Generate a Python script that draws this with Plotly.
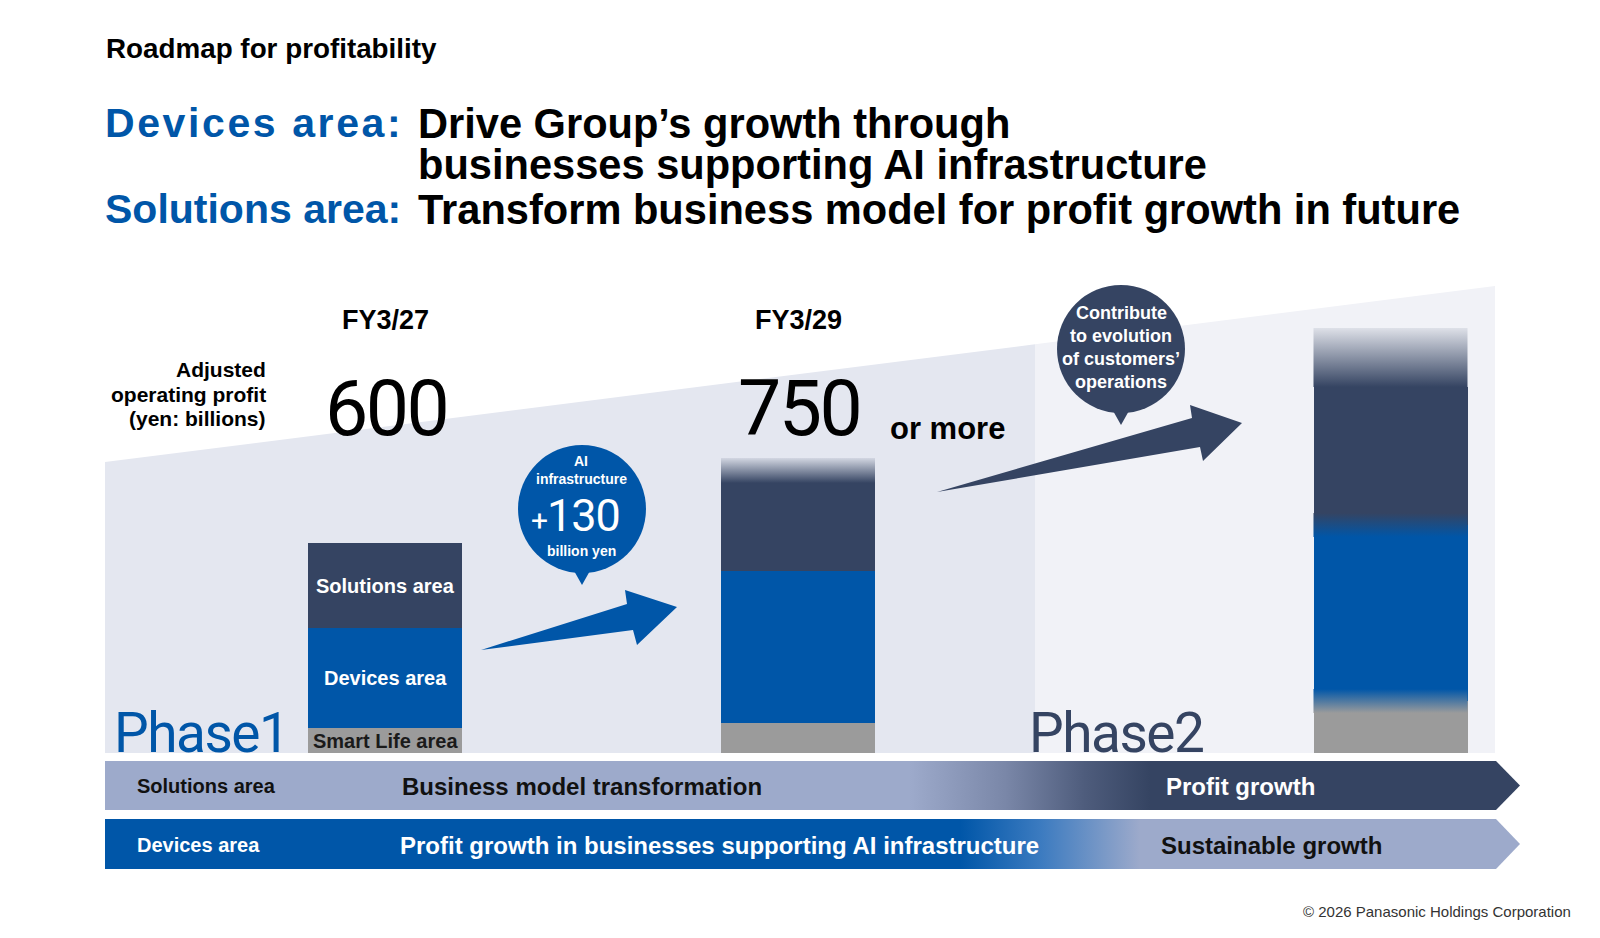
import plotly.graph_objects as go

# ---------------- data ----------------
periods = ["FY3/27", "FY3/29", "Phase2 outlook"]
profit_labels = ["600", "750", ""]
profit_suffix = "or more"
segment_names = ["Smart Life area", "Devices area", "Solutions area"]
smart_life = [25, 30, 52]      # schematic segment heights
devices = [100, 152, 176]
solutions = [85, 88, 138]
fade = [0, 25, 59]             # open-ended (faded) top part

ai_bubble = ["AI", "infrastructure", "+130", "billion yen"]
customer_bubble = ["Contribute", "to evolution", "of customers’", "operations"]
y_title = ["Adjusted", "operating profit", "(yen: billions)"]

band_rows = ["Solutions area", "Devices area"]
band_phase1 = ["Business model transformation",
               "Profit growth in businesses supporting AI infrastructure"]
band_phase2 = ["Profit growth", "Sustainable growth"]

# ---------------- layout constants ----------------
W, H = 1600, 938
BASE_PX = 753
BAR_X = [385, 798, 1390.5]
BAR_W = 154
SOFT = [False, False, True]

BLUE = "#0056A8"
NAVY = "#354462"
GRAY = "#9B9B9B"
BG1 = "#E4E7F0"
BG2 = "#F1F2F7"
LIGHT = "#9DAACB"
FONT = "Liberation Sans, Arial, Helvetica, sans-serif"
NARROW = "Roboto, Noto Sans, sans-serif"

fig = go.Figure()

# ---- bottom roadmap bands (horizontal gradient arrows) ----
def band(y0, y1, stops):
    ym = (y0 + y1) / 2
    xs = [105, 1496, 1520, 1496, 105, 105]
    ys = [y0, y0, ym, y1, y1, y0]
    fig.add_trace(go.Scatter(
        x=xs, y=ys, mode="lines", line=dict(width=0), fill="toself",
        fillgradient=dict(type="horizontal", colorscale=stops, start=105, stop=1520),
        hoverinfo="skip", showlegend=False))

def f(x):
    return (x - 105) / (1520 - 105)

band(761, 810, [[0, LIGHT], [f(910), LIGHT], [f(1005), "#7A87A8"],
                [f(1085), "#4E5C7C"], [f(1150), NAVY], [1, NAVY]])
band(819, 869, [[0, BLUE], [f(960), BLUE], [f(1041), "#3C7BC0"],
                [f(1140), LIGHT], [1, LIGHT]])

# ---- stacked bars ----
seg_vals = [smart_life, devices, solutions]
seg_cols = [GRAY, BLUE, NAVY]
for name, vals, col in zip(segment_names, seg_vals, seg_cols):
    fig.add_trace(go.Bar(x=BAR_X, y=vals, width=BAR_W, yaxis="y2", name=name,
                         marker=dict(color=col, line=dict(width=0)),
                         hoverinfo="skip", showlegend=False))

def grad_rect(xc, y0, y1, c_bottom, c_top):
    x0, x1 = xc - BAR_W / 2, xc + BAR_W / 2
    fig.add_trace(go.Scatter(
        x=[x0, x1, x1, x0, x0], y=[y0, y0, y1, y1, y0], yaxis="y2",
        mode="lines", line=dict(width=0), fill="toself",
        fillgradient=dict(type="vertical", colorscale=[[0, c_bottom], [1, c_top]],
                          start=y0, stop=y1),
        hoverinfo="skip", showlegend=False))

for i in range(len(periods)):
    top = smart_life[i] + devices[i] + solutions[i]
    if fade[i] > 0:
        grad_rect(BAR_X[i], top, top + fade[i], NAVY, "rgba(53,68,98,0.1)")
    if SOFT[i]:
        b1 = smart_life[i]
        b2 = smart_life[i] + devices[i]
        grad_rect(BAR_X[i], b1 - 12, b1 + 12, GRAY, BLUE)
        grad_rect(BAR_X[i], b2 - 12, b2 + 12, BLUE, NAVY)

# ---- shapes: background, arrows, bubbles ----
shapes = []
def path(d, color, layer="below"):
    shapes.append(dict(type="path", path=d, xref="x", yref="y", fillcolor=color,
                       line=dict(width=0), layer=layer))

path("M105,462 L1035,344.3 L1035,753 L105,753 Z", BG1)
path("M1035,344.3 L1495,286 L1495,753 L1035,753 Z", BG2)
# arrows
path("M481,650 L627,604 L625,590 L677,607 L637,645 L633,630 Z", BLUE, "above")
path("M937,492 L1192,418 L1190,405 L1242,423 L1203,461 L1200,447 Z", NAVY, "above")
# bubbles
for cx, cy, col in [(582, 509, BLUE), (1121, 349, NAVY)]:
    shapes.append(dict(type="circle", xref="x", yref="y", x0=cx - 64, x1=cx + 64,
                       y0=cy - 64, y1=cy + 64, fillcolor=col, line=dict(width=0),
                       layer="above"))
    path(f"M{cx-9},{cy+60} L{cx+9},{cy+60} L{cx},{cy+76} Z", col, "above")

# ---- annotations ----
ann = []
def txt(x, y, s, size, color="#000", bold=True, xanchor="center", family=FONT,
        yref="y", spacing=None):
    if spacing is not None:
        s = f'<span style="letter-spacing:{spacing}px">{s}</span>'
    ann.append(dict(x=x, y=y, xref="x", yref=yref, text=s, showarrow=False,
                    xanchor=xanchor, yanchor="middle",
                    font=dict(family=family, size=size, color=color,
                              weight="bold" if bold else "normal")))

txt(104, 48, "Roadmap for profitability", 27.8, xanchor="left")
txt(103, 123, "Devices area:", 41, BLUE, xanchor="left", spacing=2.6)
txt(416, 123, "Drive Group’s growth through", 41.6, xanchor="left")
txt(416, 164, "businesses supporting AI infrastructure", 41.6, xanchor="left")
txt(103, 209, "Solutions area:", 41, BLUE, xanchor="left")
txt(416, 209, "Transform business model for profit growth in future", 41.6, xanchor="left")

for i, p in enumerate(periods[:2]):
    txt(BAR_X[i], 320, p, 27)
    txt(BAR_X[i] + 1, 409, profit_labels[i], 77, bold=False, family=NARROW, spacing=-2.5)
txt(888, 428, profit_suffix, 31, xanchor="left")

for s, yy in zip(y_title, [369, 394, 418]):
    txt(268, yy, s, 21, xanchor="right")

# segment names inside first bar
cum = 0
for name, vals, col in zip(segment_names, seg_vals, ["#1A1A1A", "#FFFFFF", "#FFFFFF"]):
    mid = cum + vals[0] / 2
    cum += vals[0]
    txt(BAR_X[0], mid, name, 20, col, yref="y2")

txt(112, 733, "Phase1", 55, BLUE, bold=False, xanchor="left", family=NARROW, spacing=-1.5)
txt(1027, 733, "Phase2", 55, NAVY, bold=False, xanchor="left", family=NARROW, spacing=-1.5)

# AI bubble
txt(581, 460.5, ai_bubble[0], 14, "#FFFFFF")
txt(581, 478.5, ai_bubble[1], 14, "#FFFFFF")
txt(575, 515, '<span style="font-size:30px">+</span>' + ai_bubble[2][1:], 45, "#FFFFFF",
    bold=False, family=NARROW, spacing=-1)
txt(581, 551, ai_bubble[3], 14, "#FFFFFF")
# customer bubble
for s, yy in zip(customer_bubble, [313, 336, 359, 382]):
    txt(1121, yy, s, 18, "#FFFFFF")

# band texts
txt(135, 786, band_rows[0], 20, "#111", xanchor="left")
txt(582, 786, band_phase1[0], 24, "#111")
txt(1240, 786, band_phase2[0], 24, "#FFFFFF")
txt(135, 845, band_rows[1], 20, "#FFFFFF", xanchor="left")
txt(719, 845, band_phase1[1], 24, "#FFFFFF")
txt(1271, 845, band_phase2[1], 24, "#111")

txt(1573, 911, "© 2026 Panasonic Holdings Corporation", 15, "#333", bold=False, xanchor="right")

fig.update_layout(
    width=W, height=H, margin=dict(l=0, r=0, t=0, b=0),
    paper_bgcolor="white", plot_bgcolor="white",
    barmode="stack", showlegend=False,
    xaxis=dict(range=[0, W], visible=False, fixedrange=True),
    yaxis=dict(range=[H, 0], visible=False, fixedrange=True),
    yaxis2=dict(range=[-(H - BASE_PX), BASE_PX], overlaying="y", visible=False, fixedrange=True),
    shapes=shapes, annotations=ann,
)

fig.write_html("out.html")
